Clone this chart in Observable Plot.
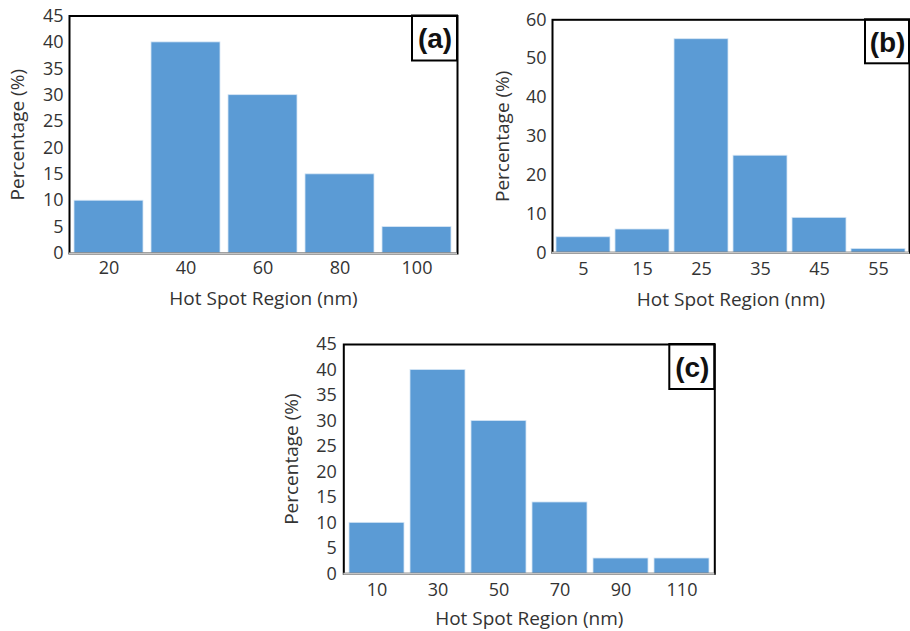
<!DOCTYPE html>
<html>
<head>
<meta charset="utf-8">
<script src="https://cdn.jsdelivr.net/npm/d3@7"></script>
<script src="https://cdn.jsdelivr.net/npm/@observablehq/plot@0.6"></script>
<style>
  html, body { margin: 0; padding: 0; background: #fff; }
  #wrap { position: relative; width: 910px; height: 631px; overflow: hidden; }
  #wrap > svg { position: absolute; }
</style>
</head>
<body>
<div id="wrap"></div>
<script>
// Panel (a)
const aCats = [20, 40, 60, 80, 100];
const aVals = [10, 40, 30, 15, 5];
const aYTicks = [0, 5, 10, 15, 20, 25, 30, 35, 40, 45];
// Panel (b)
const bCats = [5, 15, 25, 35, 45, 55];
const bVals = [4, 6, 55, 25, 9, 1];
const bYTicks = [0, 10, 20, 30, 40, 50, 60];
// Panel (c)
const cCats = [10, 30, 50, 70, 90, 110];
const cVals = [10, 40, 30, 14, 3, 3];
const cYTicks = [0, 5, 10, 15, 20, 25, 30, 35, 40, 45];

const xTitle = "Hot Spot Region (nm)";
const yTitle = "Percentage (%)";

function panel(o) {
  const data = o.cats.map((c, i) => ({cat: c, val: o.vals[i]}));
  const svg = Plot.plot({
    width: o.width, height: o.height,
    marginLeft: o.ml, marginRight: o.mr, marginTop: o.mt, marginBottom: o.mb,
    style: {fontFamily: "'Open Sans', sans-serif", fontSize: o.fs + "px", color: "#333", background: "transparent", overflow: "visible"},
    x: {type: "band", domain: o.cats, paddingInner: o.pad, paddingOuter: o.pad / 2, tickSize: 0, tickPadding: o.xtp, label: null},
    y: {domain: [0, o.yMax], ticks: o.yTicks, tickSize: 0, tickPadding: o.ytp, label: null},
    marks: [
      Plot.barY(data, {x: "cat", y: "val", fill: "#5B9BD5", stroke: "#d6e6f5", strokeWidth: 0.8}),
      Plot.frame({stroke: "#000", strokeWidth: 2}),
      Plot.ruleY([0], {stroke: "#c4c4c4", strokeWidth: 2}),
      Plot.text([xTitle], {frameAnchor: "bottom", dy: o.xdy, textAnchor: "middle", lineAnchor: "middle", fontSize: o.tfs, fill: "#333"}),
      Plot.text([yTitle], {frameAnchor: "left", dx: o.ydx, rotate: -90, textAnchor: "middle", lineAnchor: "middle", fontSize: o.tfs, fill: "#333"}),
      Plot.text([o.label], {frameAnchor: "top-right", dx: -o.box / 2, dy: o.box / 2 + 1, textAnchor: "middle", lineAnchor: "middle",
        fontSize: 28, fontWeight: "bold", fontFamily: "'Liberation Sans', Arial, sans-serif", fill: "#111"})
    ]
  });
  // label box in top-right corner of the frame
  const fx = o.width - o.mr - o.box, fy = o.mt;
  d3.select(svg).append("rect")
    .attr("x", fx).attr("y", fy).attr("width", o.box).attr("height", o.box)
    .attr("fill", "none").attr("stroke", "#000").attr("stroke-width", 2);
  svg.style.left = o.left + "px";
  svg.style.top = o.top + "px";
  document.getElementById("wrap").appendChild(svg);
}

panel({cats: aCats, vals: aVals, yMax: 45, yTicks: aYTicks, label: "(a)",
  left: 0, top: 0, width: 460, height: 310, ml: 69, mr: 3, mt: 15.5, mb: 57,
  pad: 0.1, fs: 18, tfs: 19, xtp: 8, ytp: 6, xdy: 45, ydx: -52, box: 45});

panel({cats: bCats, vals: bVals, yMax: 60, yTicks: bYTicks, label: "(b)",
  left: 460, top: 0, width: 450, height: 310, ml: 92, mr: 1, mt: 19.3, mb: 57.7,
  pad: 0.085, fs: 18, tfs: 19, xtp: 9, ytp: 6, xdy: 47, ydx: -50, box: 44});

panel({cats: cCats, vals: cVals, yMax: 45, yTicks: cYTicks, label: "(c)",
  left: 280, top: 320, width: 450, height: 311, ml: 63.3, mr: 15.7, mt: 24, mb: 57.7,
  pad: 0.1, fs: 18, tfs: 19, xtp: 9, ytp: 7, xdy: 45, ydx: -51.6, box: 45});
</script>
</body>
</html>
